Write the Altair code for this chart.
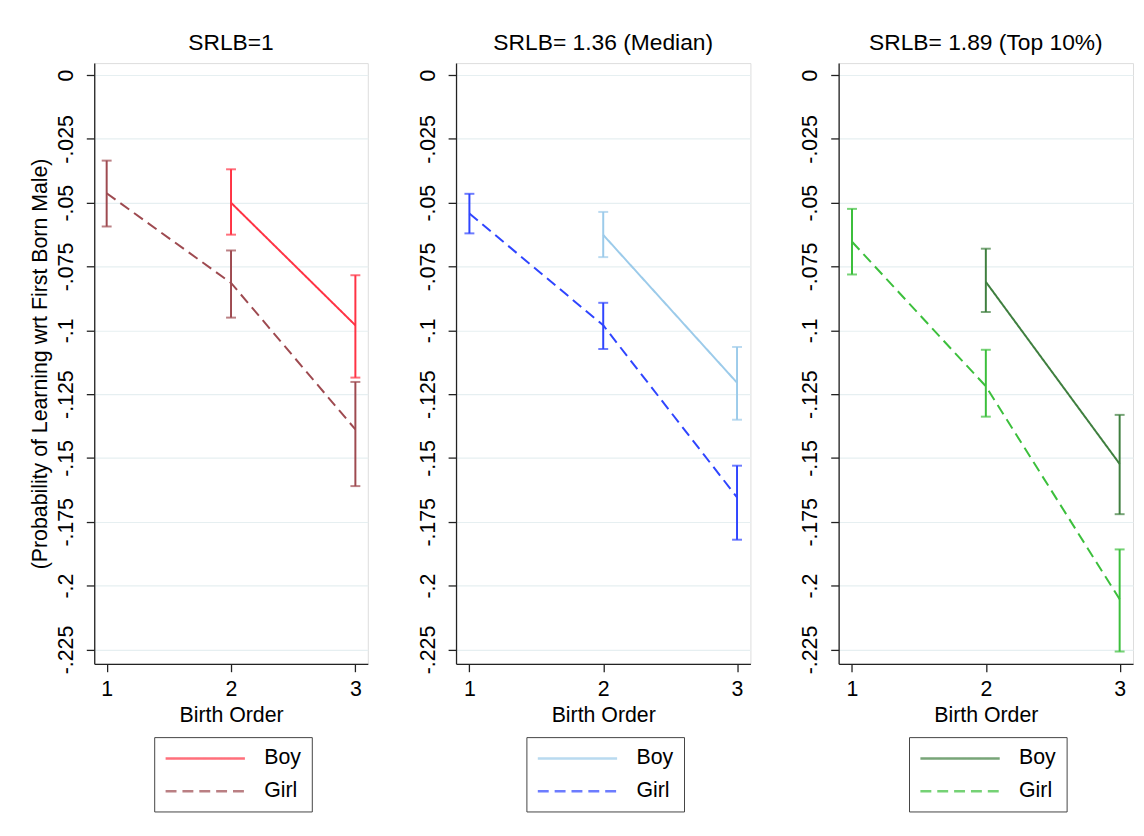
import altair as alt
import pandas as pd

FONT = "Liberation Sans"

# ---------------- data ----------------
panel_titles = ["SRLB=1", "SRLB= 1.36 (Median)", "SRLB= 1.89 (Top 10%)"]
series_names = ["Boy", "Girl"]
x_ticks = [1, 2, 3]
y_ticks = [0, -0.025, -0.05, -0.075, -0.1, -0.125, -0.15, -0.175, -0.2, -0.225]

# Panel 1: SRLB = 1
p1_boy_x = [2, 3]
p1_boy_est = [-0.050, -0.098]
p1_boy_lo = [-0.0625, -0.1185]
p1_boy_hi = [-0.0369, -0.0784]
p1_girl_x = [1, 2, 3]
p1_girl_est = [-0.0463, -0.0814, -0.1388]
p1_girl_lo = [-0.0593, -0.0950, -0.1610]
p1_girl_hi = [-0.0335, -0.0687, -0.1202]

# Panel 2: SRLB = 1.36 (Median)
p2_boy_x = [2, 3]
p2_boy_est = [-0.0626, -0.1205]
p2_boy_lo = [-0.0713, -0.1350]
p2_boy_hi = [-0.0536, -0.1065]
p2_girl_x = [1, 2, 3]
p2_girl_est = [-0.0542, -0.0980, -0.1654]
p2_girl_lo = [-0.0620, -0.1073, -0.1820]
p2_girl_hi = [-0.0465, -0.0892, -0.1530]

# Panel 3: SRLB = 1.89 (Top 10%)
p3_boy_x = [2, 3]
p3_boy_est = [-0.0810, -0.1523]
p3_boy_lo = [-0.0928, -0.1720]
p3_boy_hi = [-0.0680, -0.1331]
p3_girl_x = [1, 2, 3]
p3_girl_est = [-0.0653, -0.1219, -0.2053]
p3_girl_lo = [-0.0781, -0.1338, -0.2258]
p3_girl_hi = [-0.0524, -0.1076, -0.1858]

p1_colors = ["#FF3344", "#9E4A50"]
p2_colors = ["#9CCBEA", "#2F45FF"]
p3_colors = ["#3F7F3F", "#3CBF3C"]


def frame(bx, best, blo, bhi, gx, gest, glo, ghi):
    rows = []
    for s, xs, es, ls, hs in [("Boy", bx, best, blo, bhi), ("Girl", gx, gest, glo, ghi)]:
        for x, e, l, h in zip(xs, es, ls, hs):
            rows.append({"series": s, "x": x, "est": e, "lo": l, "hi": h})
    return pd.DataFrame(rows)


df1 = frame(p1_boy_x, p1_boy_est, p1_boy_lo, p1_boy_hi, p1_girl_x, p1_girl_est, p1_girl_lo, p1_girl_hi)
df2 = frame(p2_boy_x, p2_boy_est, p2_boy_lo, p2_boy_hi, p2_girl_x, p2_girl_est, p2_girl_lo, p2_girl_hi)
df3 = frame(p3_boy_x, p3_boy_est, p3_boy_lo, p3_boy_hi, p3_girl_x, p3_girl_est, p3_girl_lo, p3_girl_hi)

PLOT_H = 606
AX = "#222222"
GRID = "#E6EFF1"
FS = 21.5


def panel(df, title, colors, width, ytitle):
    legend = alt.Legend(
        title=None, orient="none", legendX=(width - 155) / 2, legendY=PLOT_H + 74,
        direction="vertical", symbolType="M-1,0H7", symbolSize=400, symbolStrokeWidth=2.5,
        labelFontSize=FS, labelFont=FONT, labelColor="#000000", labelOffset=78,
        strokeColor="#444444", padding=10, rowPadding=11, fillColor="#FFFFFF",
    )
    color = alt.Color("series:N", scale=alt.Scale(domain=series_names, range=colors), legend=legend)
    dash = alt.StrokeDash("series:N", scale=alt.Scale(domain=series_names, range=[[1, 0], [11, 6]]), legend=legend)
    x = alt.X(
        "x:Q",
        scale=alt.Scale(domain=[0.9, 3.1], nice=False, zero=False),
        axis=alt.Axis(
            values=x_ticks, title="Birth Order", grid=False, format="d",
            labelFontSize=FS, titleFontSize=FS, labelFont=FONT, titleFont=FONT,
            titleFontWeight="normal", labelColor="#000", titleColor="#000",
            tickSize=8, labelPadding=7, titlePadding=5, domainColor=AX, tickColor=AX,
            domainWidth=1.3, tickWidth=1.3,
        ),
    )
    yaxis = alt.Axis(
        values=y_ticks, title=ytitle if ytitle else None, grid=True, gridColor=GRID, gridWidth=1.2,
        labelExpr="replace('' + datum.value, '0.', '.')",
        labelAngle=270, labelAlign="center", labelBaseline="bottom",
        labelFontSize=FS, titleFontSize=FS, labelFont=FONT, titleFont=FONT,
        titleFontWeight="normal", labelColor="#000", titleColor="#000",
        tickSize=8, labelPadding=9, titlePadding=4, domainColor=AX, tickColor=AX,
        domainWidth=1.3, tickWidth=1.3,
    )
    yscale = alt.Scale(domain=[-0.2306, 0.0047], nice=False, zero=False)
    base = alt.Chart(df)
    lines = base.mark_line(strokeWidth=2).encode(
        x=x, y=alt.Y("est:Q", scale=yscale, axis=yaxis), color=color, strokeDash=dash,
    )
    bars = base.mark_rule(strokeWidth=2).encode(x=x, y=alt.Y("lo:Q"), y2="hi:Q", color=color)
    cap_lo = base.mark_tick(orient="horizontal", size=10, thickness=2).encode(x=x, y=alt.Y("lo:Q"), color=color)
    cap_hi = base.mark_tick(orient="horizontal", size=10, thickness=2).encode(x=x, y=alt.Y("hi:Q"), color=color)
    return alt.layer(lines, bars, cap_lo, cap_hi).properties(
        width=width, height=PLOT_H,
        title=alt.TitleParams(title, fontSize=23, font=FONT, fontWeight="normal", color="#000",
                              anchor="middle", frame="group", offset=8),
    )


c1 = panel(df1, panel_titles[0], p1_colors, 276, "(Probability of Learning wrt First Born Male)")
c2 = panel(df2, panel_titles[1], p2_colors, 297, None)
c3 = panel(df3, panel_titles[2], p3_colors, 297, None)

chart = alt.hconcat(c1, c2, c3, spacing=48).resolve_scale(
    color="independent", strokeDash="independent"
).properties(
    padding={"left": 21, "top": 20, "right": 2, "bottom": 2},
).configure_view(stroke=None).configure(background="#FFFFFF")

chart.save("out.html", embed_options={"renderer": "svg", "actions": False})
